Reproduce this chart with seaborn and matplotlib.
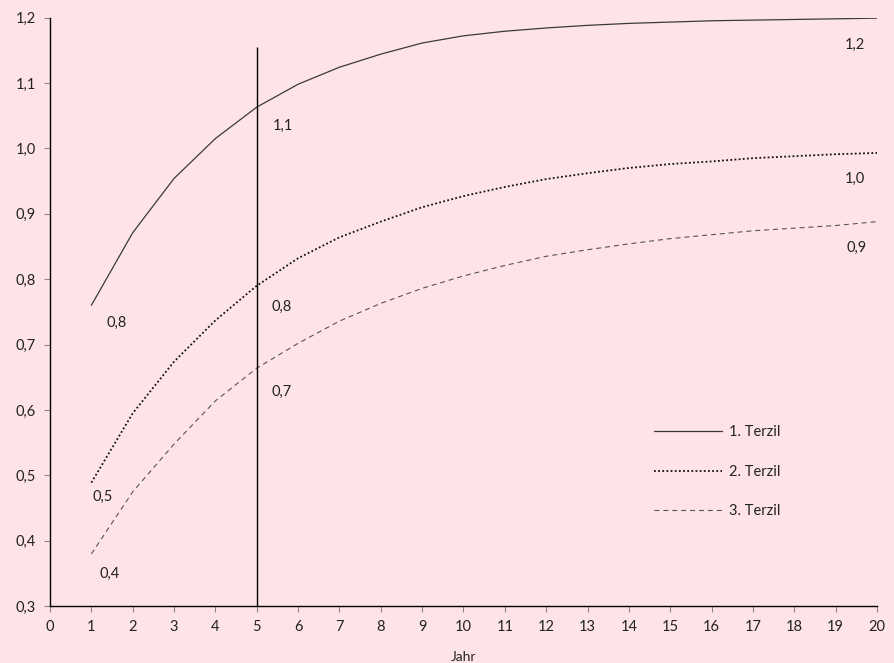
import matplotlib
matplotlib.use("Agg")
import matplotlib.pyplot as plt
import seaborn as sns
import pandas as pd
import numpy as np

years = list(range(1, 21))
terzil1 = [0.76, 0.871, 0.954, 1.015, 1.063, 1.098, 1.124, 1.144, 1.161, 1.172,
           1.179, 1.184, 1.188, 1.191, 1.193, 1.195, 1.196, 1.197, 1.198, 1.199]
terzil2 = [0.489, 0.595, 0.674, 0.737, 0.790, 0.832, 0.864, 0.888, 0.910, 0.927,
           0.941, 0.953, 0.962, 0.970, 0.976, 0.980, 0.985, 0.988, 0.991, 0.993]
terzil3 = [0.380, 0.475, 0.548, 0.614, 0.664, 0.702, 0.736, 0.763, 0.786, 0.805,
           0.821, 0.835, 0.845, 0.854, 0.862, 0.868, 0.874, 0.878, 0.882, 0.888]
series_names = ["1. Terzil", "2. Terzil", "3. Terzil"]

# annotation texts and their positions (data coords)
ann_texts = ["0,8", "0,5", "0,4", "1,1", "0,8", "0,7", "1,2", "1,0", "0,9"]
ann_x = [1.62, 1.28, 1.45, 5.63, 5.60, 5.60, 19.47, 19.47, 19.51]
ann_y = [0.733, 0.467, 0.350, 1.035, 0.757, 0.627, 1.158, 0.953, 0.848]

vline_x = 5
vline_top = 1.155

x_ticks = list(range(0, 21))
y_ticks = [0.3, 0.4, 0.5, 0.6, 0.7, 0.8, 0.9, 1.0, 1.1, 1.2]
y_tick_labels = ["0,3", "0,4", "0,5", "0,6", "0,7", "0,8", "0,9", "1,0", "1,1", "1,2"]

bg = "#fee4e6"
sns.set_theme(style="white", rc={"axes.facecolor": bg, "figure.facecolor": bg})
plt.rcParams["font.family"] = ["Lato", "DejaVu Sans"]
fs = 10.5

fig = plt.figure(figsize=(8.94, 6.63), dpi=100)
ax = fig.add_axes([50 / 894, 1 - 606.3 / 663, 827 / 894, (606.3 - 17.5) / 663])

df = pd.DataFrame({
    "Jahr": years * 3,
    "Wert": terzil1 + terzil2 + terzil3,
    "Serie": [series_names[0]] * 20 + [series_names[1]] * 20 + [series_names[2]] * 20,
})

styles = [
    dict(color="#3a3a3a", lw=0.9, ls="-"),
    dict(color="#111111", lw=1.3, ls=(0, (1, 1.3))),
    dict(color="#555555", lw=0.8, ls=(0, (4.5, 3.5))),
]
for name, st in zip(series_names, styles):
    sub = df[df["Serie"] == name]
    sns.lineplot(data=sub, x="Jahr", y="Wert", ax=ax, color=st["color"],
                 linewidth=st["lw"], linestyle=st["ls"], label=name)

ax.vlines(vline_x, y_ticks[0], vline_top, color="black", lw=1.0)

for t, x, y in zip(ann_texts, ann_x, ann_y):
    ax.text(x, y, t, ha="center", va="center", fontsize=fs, color="#222222")

ax.set_xlim(0, 20)
ax.set_ylim(0.3, 1.2)
ax.set_xticks(x_ticks)
ax.set_xticklabels([str(v) for v in x_ticks])
ax.set_yticks(y_ticks)
ax.set_yticklabels(y_tick_labels)
ax.tick_params(axis="both", which="major", length=4, width=0.8, color="#888888",
               labelsize=fs, labelcolor="#222222", direction="out", pad=6,
               bottom=True, left=True)
ax.set_xlabel("Jahr", fontsize=fs - 0.5, color="#222222", labelpad=12)
ax.set_ylabel("")

for s in ["top", "right"]:
    ax.spines[s].set_visible(False)
for s in ["left", "bottom"]:
    ax.spines[s].set_color("black")
    ax.spines[s].set_linewidth(1.0)

leg = ax.legend(loc="upper left", bbox_to_anchor=(0.715, 0.33), frameon=False,
                fontsize=fs, handlelength=4.6, handletextpad=0.5,
                labelspacing=1.75, labelcolor="#222222")

fig.savefig("out.png", dpi=100, facecolor=bg)
